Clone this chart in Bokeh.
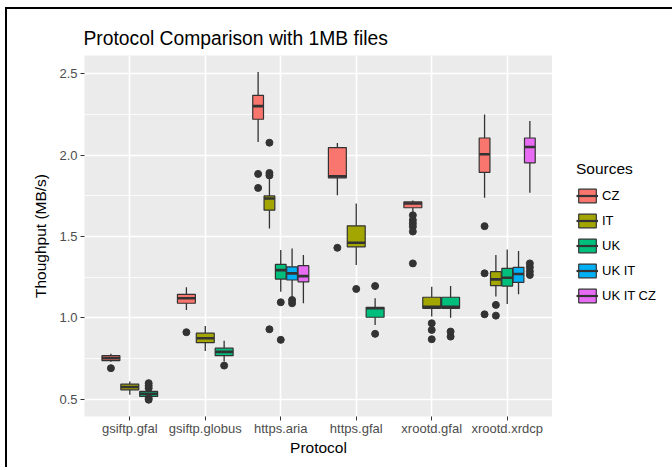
from bokeh.plotting import figure
from bokeh.layouts import row
from bokeh.models import (Range1d, FixedTicker, SingleIntervalTicker, Legend, LegendItem,
                          ColumnDataSource, PrintfTickFormatter)
from bokeh.embed import file_html
from bokeh.resources import INLINE

# ---------------- data ----------------
protocols = ["gsiftp.gfal", "gsiftp.globus", "https.aria", "https.gfal", "xrootd.gfal", "xrootd.xrdcp"]
sources = ["CZ", "IT", "UK", "UK IT", "UK IT CZ"]
source_colors = ["#F8766D", "#A3A500", "#00BF7D", "#00B0F6", "#E76BF3"]

box_protocol = ["gsiftp.gfal", "gsiftp.gfal", "gsiftp.gfal",
                "gsiftp.globus", "gsiftp.globus", "gsiftp.globus",
                "https.aria", "https.aria", "https.aria", "https.aria", "https.aria",
                "https.gfal", "https.gfal", "https.gfal",
                "xrootd.gfal", "xrootd.gfal", "xrootd.gfal",
                "xrootd.xrdcp", "xrootd.xrdcp", "xrootd.xrdcp", "xrootd.xrdcp", "xrootd.xrdcp"]
box_source = ["CZ", "IT", "UK",
              "CZ", "IT", "UK",
              "CZ", "IT", "UK", "UK IT", "UK IT CZ",
              "CZ", "IT", "UK",
              "CZ", "IT", "UK",
              "CZ", "IT", "UK", "UK IT", "UK IT CZ"]
whisker_low = [0.729, 0.526, 0.510,
               1.048, 0.796, 0.731,
               2.080, 1.549, 1.160, 1.120, 1.089,
               1.753, 1.324, 0.956,
               1.651, 1.007, 1.000,
               1.737, 1.130, 1.085, 1.144, 1.768]
q1 = [0.737, 0.557, 0.516,
      1.089, 0.847, 0.767,
      2.220, 1.661, 1.238, 1.232, 1.221,
      1.860, 1.436, 1.003,
      1.676, 1.058, 1.058,
      1.893, 1.197, 1.195, 1.218, 1.952]
median = [0.752, 0.574, 0.532,
          1.120, 0.874, 0.790,
          2.301, 1.733, 1.293, 1.273, 1.256,
          1.870, 1.461, 1.058,
          1.702, 1.068, 1.068,
          2.005, 1.236, 1.246, 1.269, 2.050]
q3 = [0.767, 0.592, 0.547,
      1.144, 0.905, 0.813,
      2.367, 1.749, 1.328, 1.313, 1.320,
      2.046, 1.565, 1.064,
      1.712, 1.126, 1.126,
      2.105, 1.283, 1.304, 1.310, 2.105]
whisker_high = [0.778, 0.608, 0.553,
                1.187, 0.950, 0.858,
                2.510, 1.866, 1.416, 1.426, 1.385,
                2.074, 1.702, 1.120,
                1.720, 1.191, 1.195,
                2.250, 1.385, 1.420, 1.410, 2.209]

outlier_protocol = ["gsiftp.gfal",
                    "gsiftp.gfal", "gsiftp.gfal", "gsiftp.gfal", "gsiftp.gfal", "gsiftp.gfal",
                    "gsiftp.globus", "gsiftp.globus",
                    "https.aria", "https.aria",
                    "https.aria", "https.aria", "https.aria", "https.aria",
                    "https.aria", "https.aria",
                    "https.aria", "https.aria",
                    "https.gfal", "https.gfal", "https.gfal", "https.gfal",
                    "xrootd.gfal", "xrootd.gfal", "xrootd.gfal", "xrootd.gfal", "xrootd.gfal", "xrootd.gfal",
                    "xrootd.gfal", "xrootd.gfal", "xrootd.gfal",
                    "xrootd.gfal", "xrootd.gfal",
                    "xrootd.xrdcp", "xrootd.xrdcp", "xrootd.xrdcp",
                    "xrootd.xrdcp", "xrootd.xrdcp",
                    "xrootd.xrdcp", "xrootd.xrdcp", "xrootd.xrdcp", "xrootd.xrdcp"]
outlier_source = ["CZ",
                  "UK", "UK", "UK", "UK", "UK",
                  "CZ", "UK",
                  "CZ", "CZ",
                  "IT", "IT", "IT", "IT",
                  "UK", "UK",
                  "UK IT", "UK IT",
                  "CZ", "IT", "UK", "UK",
                  "CZ", "CZ", "CZ", "CZ", "CZ", "CZ",
                  "IT", "IT", "IT",
                  "UK", "UK",
                  "CZ", "CZ", "CZ",
                  "IT", "IT",
                  "UK IT CZ", "UK IT CZ", "UK IT CZ", "UK IT CZ"]
outlier_value = [0.690,
                 0.598, 0.582, 0.567, 0.506, 0.496,
                 0.911, 0.706,
                 1.884, 1.798,
                 2.076, 1.890, 1.875, 0.929,
                 1.095, 0.864,
                 1.109, 1.089,
                 1.430, 1.177, 1.195, 0.901,
                 1.630, 1.600, 1.580, 1.560, 1.530, 1.334,
                 0.966, 0.925, 0.868,
                 0.915, 0.884,
                 1.563, 1.273, 1.021,
                 1.079, 1.013,
                 1.334, 1.310, 1.285, 1.263]

# ---------------- dodge positions (ggplot-like) ----------------
DODGE = 0.75
box_x, box_w = [], []
for prot, src in zip(box_protocol, box_source):
    present = [s for s in sources
               if any(bp == prot and bs == s for bp, bs in zip(box_protocol, box_source))]
    n = len(present)
    i = present.index(src)
    slot = DODGE / n
    box_x.append(protocols.index(prot) + 1 - DODGE / 2 + slot * (i + 0.5))
    box_w.append(slot * 0.95)

def box_pos(prot, src):
    for k, (bp, bs) in enumerate(zip(box_protocol, box_source)):
        if bp == prot and bs == src:
            return box_x[k]
    return None

FONT = "Liberation Sans"
DARK = "#333333"
H = 458
W_MAIN, W_LEG = 545, 120
ML, MT, MB = 77, 46, 51

p = figure(width=W_MAIN, height=H, output_backend="svg", toolbar_location=None,
           x_range=Range1d(0.4, 6.6), y_range=Range1d(0.393, 2.612),
           min_border_left=ML, min_border_right=0, min_border_top=MT, min_border_bottom=MB)

p.background_fill_color = "#EBEBEB"
p.border_fill_color = "white"
p.outline_line_color = None

# title
p.title.text = "Protocol Comparison with 1MB files"
p.title.text_font = FONT
p.title.text_font_size = "19.3px"
p.title.text_font_style = "normal"
p.title.text_color = "black"
p.title.align = "left"
p.title.offset = -1
p.title.standoff = 13

# grids
p.xgrid.ticker = FixedTicker(ticks=list(range(1, len(protocols) + 1)))
p.xgrid.grid_line_color = "white"
p.xgrid.grid_line_width = 1.6
p.ygrid.grid_line_color = "white"
p.ygrid.grid_line_width = 1.6
p.ygrid.minor_grid_line_color = "white"
p.ygrid.minor_grid_line_width = 0.8

# axes
p.xaxis.ticker = FixedTicker(ticks=list(range(1, len(protocols) + 1)))
p.xaxis.major_label_overrides = {i + 1: name for i, name in enumerate(protocols)}
p.yaxis.ticker = SingleIntervalTicker(interval=0.5, num_minor_ticks=2)
p.yaxis.formatter = PrintfTickFormatter(format="%.1f")
for ax in (p.xaxis, p.yaxis):
    ax.axis_line_color = None
    ax.major_tick_line_color = DARK
    ax.major_tick_in = 0
    ax.major_tick_out = 4
    ax.minor_tick_line_color = None
    ax.major_label_text_font = FONT
    ax.major_label_text_font_size = "13px"
    ax.major_label_text_color = "#4D4D4D"
    ax.major_label_standoff = 3
    ax.axis_label_text_font = FONT
    ax.axis_label_text_font_size = "15.5px"
    ax.axis_label_text_font_style = "normal"
    ax.axis_label_text_color = "black"
p.xaxis.major_label_standoff = 0
p.xaxis.axis_label = "Protocol"
p.yaxis.axis_label = "Thoughput (MB/s)"
p.xaxis.axis_label_standoff = 0
p.yaxis.axis_label_standoff = 7

# ---------------- legend figure (same top/bottom borders so the frames line up) ----------------
pl = figure(width=W_LEG, height=H, output_backend="svg", toolbar_location=None,
            x_range=Range1d(0, 1), y_range=Range1d(0, 1),
            x_axis_type=None, y_axis_type=None,
            min_border_left=0, min_border_right=4, min_border_top=MT, min_border_bottom=MB)
pl.grid.visible = False
pl.outline_line_color = None
pl.background_fill_color = "white"
pl.border_fill_color = "white"

# ---------------- boxes per source ----------------
items = []
for src, col in zip(sources, source_colors):
    idx = [k for k, s in enumerate(box_source) if s == src]
    cds = ColumnDataSource(dict(
        x=[box_x[k] for k in idx],
        w=[box_w[k] for k in idx],
        left=[box_x[k] - box_w[k] / 2 for k in idx],
        right=[box_x[k] + box_w[k] / 2 for k in idx],
        lo=[whisker_low[k] for k in idx],
        q1=[q1[k] for k in idx],
        med=[median[k] for k in idx],
        q3=[q3[k] for k in idx],
        hi=[whisker_high[k] for k in idx],
    ))
    p.segment(x0="x", y0="lo", x1="x", y1="q1", source=cds, line_color=DARK, line_width=1.3)
    p.segment(x0="x", y0="q3", x1="x", y1="hi", source=cds, line_color=DARK, line_width=1.3)
    p.vbar(x="x", width="w", bottom="q1", top="q3", source=cds,
           fill_color=col, line_color=DARK, line_width=1.2)
    p.segment(x0="left", y0="med", x1="right", y1="med", source=cds,
              line_color=DARK, line_width=2.6)
    oidx = [k for k, s in enumerate(outlier_source) if s == src]
    if oidx:
        ocds = ColumnDataSource(dict(
            x=[box_pos(outlier_protocol[k], src) for k in oidx],
            y=[outlier_value[k] for k in oidx],
        ))
        p.scatter(x="x", y="y", source=ocds, size=7, fill_color=DARK, line_color=DARK)
    # legend key glyphs: a zero-size placeholder each, only visible in the legend
    key = ColumnDataSource(dict(x=[0.95], w=[0.0], b=[0.95], t=[0.95],
                                x0=[0.95], x1=[0.95], y=[0.95]))
    kb = pl.vbar(x="x", width="w", bottom="b", top="t", source=key,
                 fill_color=col, line_color=DARK, line_width=1.2)
    km = pl.segment(x0="x0", y0="y", x1="x1", y1="y", source=key,
                    line_color=DARK, line_width=2.2)
    items.append(LegendItem(label=src, renderers=[kb, km]))

legend = Legend(items=items, title="Sources", location=(24, 112),
                orientation="vertical")
legend.title_text_font = FONT
legend.title_text_font_size = "15.5px"
legend.title_text_font_style = "normal"
legend.title_text_color = "black"
legend.title_standoff = 9
legend.label_text_font = FONT
legend.label_text_font_size = "13px"
legend.label_text_color = "black"
legend.glyph_width = 22
legend.glyph_height = 17
legend.label_height = 17
legend.spacing = 8
legend.label_standoff = 4
legend.padding = 0
legend.margin = 0
legend.border_line_color = None
legend.background_fill_alpha = 0
pl.add_layout(legend)

layout = row(p, pl, spacing=0,
             styles={"border-left": "2px solid black", "border-top": "2px solid black",
                     "border-right": "0px", "border-bottom": "0px",
                     "margin-left": "5px", "margin-top": "7px"})

open("out.html", "w").write(file_html(layout, INLINE))
